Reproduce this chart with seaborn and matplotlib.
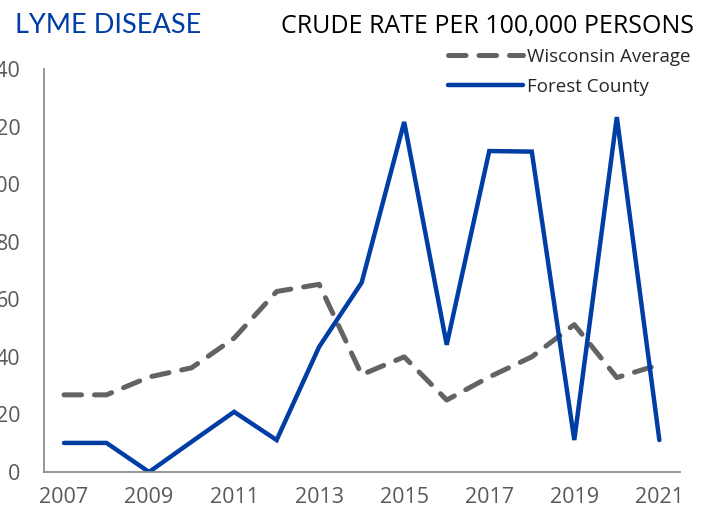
import pandas as pd
import matplotlib.pyplot as plt
import seaborn as sns

years = list(range(2007, 2022))
wisconsin = [26.8, 26.8, 33.0, 36.2, 46.5, 62.7, 65.2, 33.8, 40.0, 25.0, 33.0, 40.0, 51.2, 32.8, 37.3]
forest = [10.1, 10.1, 0.0, 10.5, 20.9, 11.1, 43.5, 65.8, 121.6, 44.2, 111.5, 111.3, 11.1, 123.3, 11.1]
xticks = [2007, 2009, 2011, 2013, 2015, 2017, 2019, 2021]
yticks = [0, 20, 40, 60, 80, 100, 120, 140]

df = pd.DataFrame({"year": years, "Wisconsin Average": wisconsin, "Forest County": forest})

sns.set_style("white")
plt.rcParams["font.family"] = ["Open Sans", "DejaVu Sans"]

fig = plt.figure(figsize=(7.1, 5.18), dpi=100)
ax = fig.add_axes([0.062, 0.0888, 0.896, 0.778])

gray = "#646262"
blue = "#003DA5"

sns.lineplot(data=df, x="year", y="Wisconsin Average", ax=ax, color=gray, lw=3.6,
             label="Wisconsin Average", dash_capstyle="round", solid_capstyle="round")
ax.lines[-1].set_dashes([3.5, 2.6])
sns.lineplot(data=df, x="year", y="Forest County", ax=ax, color=blue, lw=3.2,
             label="Forest County", solid_capstyle="round", solid_joinstyle="miter")

ax.set_xlim(2006.53, 2021.49)
ax.set_ylim(0, 140)
ax.set_xticks(xticks)
ax.set_yticks(yticks)
ax.set_xlabel("")
ax.set_ylabel("")
ax.tick_params(axis="both", length=0, labelsize=15.5, colors="#595959")
ax.tick_params(axis="y", pad=17)
ax.tick_params(axis="x", pad=11)
for s in ["top", "right"]:
    ax.spines[s].set_visible(False)
for s in ["left", "bottom"]:
    ax.spines[s].set_color("#8c8c8c")
    ax.spines[s].set_linewidth(1.3)

leg = ax.legend(loc="upper right", bbox_to_anchor=(0.996, 0.94), bbox_transform=fig.transFigure,
                frameon=False, fontsize=13.5, handlelength=4.0, handletextpad=0.2, labelspacing=0.62)

fig.text(0.021, 0.937, "LYME DISEASE", color=blue, fontsize=19.5, family=["Lato", "DejaVu Sans"],
         va="baseline", ha="left")
fig.text(0.977, 0.937, "CRUDE RATE PER 100,000 PERSONS", color="black", fontsize=18,
         va="baseline", ha="right")

fig.savefig("out.png", dpi=100)
